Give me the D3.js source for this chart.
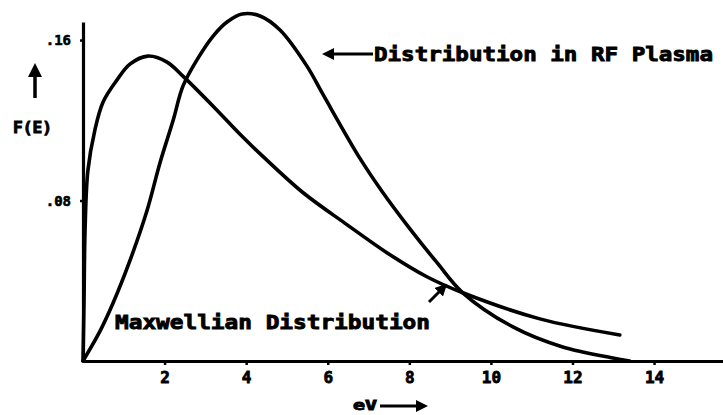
<!DOCTYPE html>
<html>
<head>
<meta charset="utf-8">
<script src="https://cdn.jsdelivr.net/npm/d3@7"></script>
<style>
  body { margin: 0; background: #fff; }
  text { font-family: "DejaVu Sans Mono", monospace; font-weight: bold; fill: #000; }
</style>
</head>
<body>
<script>
// chart data
const maxwellEV = [0, 0.025, 0.05, 0.12, 0.29, 0.49, 0.83, 1.15, 1.59, 2.06, 2.45, 3.19, 3.85, 4.41, 5.39, 6.47, 7.45, 8.43, 9.31, 11.2, 13.16];
const maxwellF  = [0, 0.030, 0.065, 0.095, 0.115, 0.129, 0.140, 0.148, 0.152, 0.149, 0.142, 0.127, 0.113, 0.102, 0.084, 0.068, 0.054, 0.042, 0.034, 0.021, 0.013];

const rfEV = [0, 0.42, 0.74, 1.15, 1.57, 1.89, 2.21, 2.45, 2.79, 3.19, 3.53, 3.90, 4.34, 4.83, 5.49, 5.88, 6.79, 7.35, 8.01, 8.68, 9.31, 10.54, 11.76, 12.99, 13.4];
const rfF  = [0, 0.015, 0.029, 0.050, 0.075, 0.099, 0.120, 0.137, 0.150, 0.162, 0.169, 0.173, 0.172, 0.165, 0.147, 0.133, 0.101, 0.084, 0.066, 0.049, 0.034, 0.017, 0.007, 0.0015, 0];

const xTicks = [2, 4, 6, 8, 10, 12, 14];
const yTicks = [0.08, 0.16];
const yTickLabels = [".08", ".16"];

const width = 723;
const height = 415;

const svg = d3.select("body")
    .append("svg")
    .attr("width", width)
    .attr("height", height);

const x = d3.scaleLinear().domain([0, 15.69]).range([83, 723]);
const y = d3.scaleLinear().domain([0, 0.169]).range([361, 22]);

// axes
const xAxis = svg.append("g")
    .attr("transform", `translate(0,${y(0)})`)
    .call(d3.axisBottom(x).tickValues(xTicks).tickSize(4).tickSizeOuter(0).tickPadding(7));
xAxis.select(".domain").attr("stroke-width", 3.2);
xAxis.selectAll(".tick line").attr("stroke-width", 2.5);
xAxis.selectAll(".tick text")
    .attr("font-size", 16)
    .attr("font-family", "DejaVu Sans Mono")
    .attr("font-weight", "bold")
    .attr("stroke", "#000").attr("stroke-width", 0.8);

const yAxis = svg.append("g")
    .attr("transform", `translate(${x(0)},0)`)
    .call(d3.axisLeft(y).tickValues(yTicks).tickSize(3).tickSizeOuter(0).tickPadding(9)
        .tickFormat((d, i) => yTickLabels[i]));
yAxis.select(".domain").attr("stroke-width", 3.2);
yAxis.selectAll(".tick line").attr("stroke-width", 2.5);
yAxis.selectAll(".tick text")
    .attr("font-size", 14)
    .attr("font-family", "DejaVu Sans Mono")
    .attr("font-weight", "bold")
    .attr("stroke", "#000").attr("stroke-width", 0.6);

// curves
const line = d3.line()
    .x(d => x(d[0]))
    .y(d => y(d[1]))
    .curve(d3.curveCatmullRom.alpha(0.5));

svg.append("path")
    .datum(d3.zip(maxwellEV, maxwellF))
    .attr("fill", "none")
    .attr("stroke", "#000")
    .attr("stroke-width", 3.6)
    .attr("stroke-linecap", "round")
    .attr("d", line);

svg.append("path")
    .datum(d3.zip(rfEV, rfF))
    .attr("fill", "none")
    .attr("stroke", "#000")
    .attr("stroke-width", 3.6)
    .attr("stroke-linecap", "round")
    .attr("d", line);

// arrowheads
const defs = svg.append("defs");
defs.append("marker")
    .attr("id", "head")
    .attr("viewBox", "0 0 10 10")
    .attr("refX", 5).attr("refY", 5)
    .attr("markerWidth", 4).attr("markerHeight", 4)
    .attr("orient", "auto-start-reverse")
    .append("path")
    .attr("d", "M0,0L10,5L0,10Z")
    .attr("fill", "#000");

function arrow(x1, y1, x2, y2, w) {
    svg.append("line")
        .attr("x1", x1).attr("y1", y1)
        .attr("x2", x2).attr("y2", y2)
        .attr("stroke", "#000")
        .attr("stroke-width", w)
        .attr("marker-end", "url(#head)");
}

// labels
function label(txt, tx, ty, size, len) {
    svg.append("text")
        .attr("x", tx).attr("y", ty)
        .attr("font-size", size)
        .attr("stroke", "#000").attr("stroke-width", 0.9)
        .attr("textLength", len)
        .attr("lengthAdjust", "spacingAndGlyphs")
        .text(txt);
}

label("Distribution in RF Plasma", 374, 61, 20, 339);
arrow(373, 54, 328, 54, 3);

label("Maxwellian Distribution", 115, 329, 20, 315);
arrow(429, 302, 443, 288, 3);

label("F(E)", 13, 133, 15, 39);
arrow(35, 98, 35, 70, 3.5);

label("eV", 353, 410, 14, 24);
arrow(380, 406, 422, 406, 3);
</script>
</body>
</html>
